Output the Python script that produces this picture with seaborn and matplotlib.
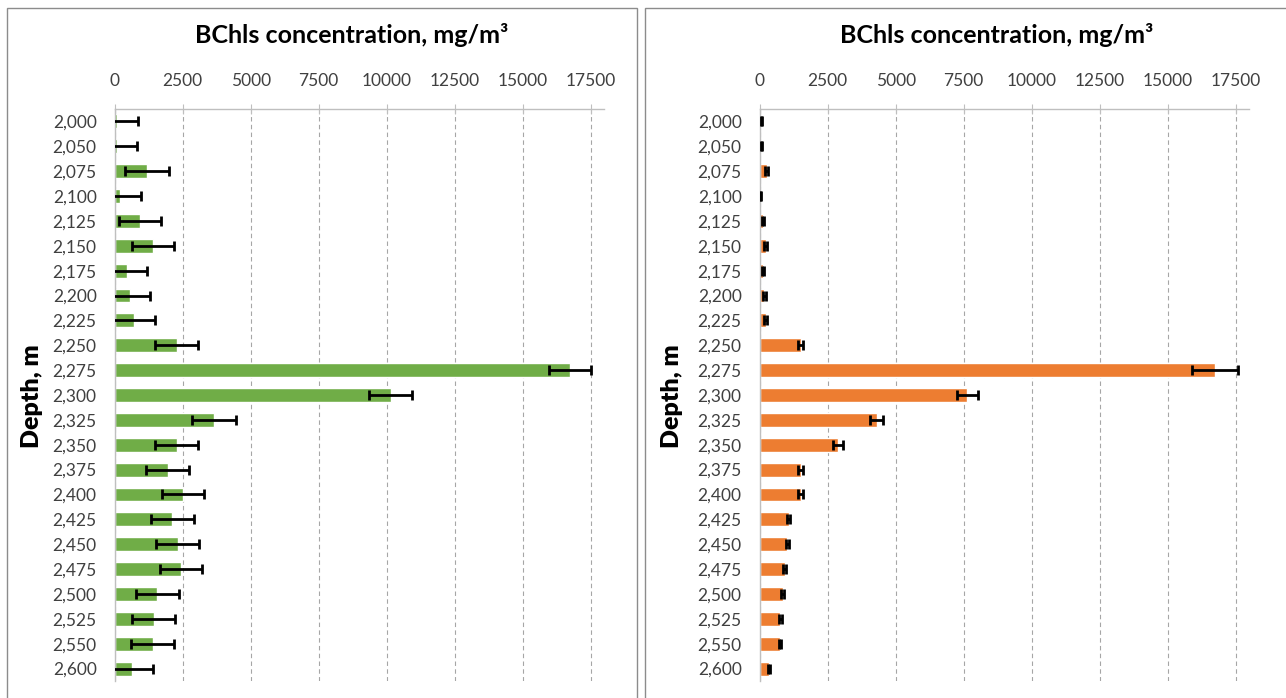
import matplotlib
matplotlib.use('Agg')
import matplotlib.pyplot as plt
from matplotlib.patches import Rectangle
import seaborn as sns
import numpy as np

depths = ['2,000', '2,050', '2,075', '2,100', '2,125', '2,150', '2,175', '2,200',
          '2,225', '2,250', '2,275', '2,300', '2,325', '2,350', '2,375', '2,400',
          '2,425', '2,450', '2,475', '2,500', '2,525', '2,550', '2,600']

# left panel (green)
green_vals = [75, 75, 1190, 196, 920, 1400, 450, 545, 710, 2275, 16745, 10145,
              3660, 2275, 1945, 2500, 2110, 2320, 2440, 1570, 1430, 1390, 650]
green_err = [785, 740, 800, 770, 775, 776, 755, 770, 770, 790, 770, 790,
             806, 805, 790, 775, 790, 785, 785, 790, 805, 785, 740]

# right panel (orange)
orange_vals = [60, 60, 260, 45, 120, 215, 120, 165, 215, 1505, 16740, 7640,
               4305, 2875, 1505, 1505, 1065, 1020, 915, 850, 760, 745, 335]
orange_err = [20, 20, 60, 20, 40, 50, 40, 50, 50, 100, 850, 390,
              245, 175, 100, 100, 60, 60, 50, 50, 50, 50, 40]

xticks = [0, 2500, 5000, 7500, 10000, 12500, 15000, 17500]

sns.set_style('white')
plt.rcParams['font.family'] = ['Lato', 'DejaVu Sans']

W, H = 1286, 698
fig = plt.figure(figsize=(W / 100, H / 100), dpi=100)

# chart area borders
fig.patches.append(Rectangle((7 / W, -0.05), 630 / W, 1 - 8 / H + 0.05, transform=fig.transFigure,
                             fill=False, edgecolor='#8c8c8c', lw=1))
fig.patches.append(Rectangle((645 / W, -0.05), 0.6, 1 - 8 / H + 0.05, transform=fig.transFigure,
                             fill=False, edgecolor='#8c8c8c', lw=1))

panels = [
    (114.7, green_vals, green_err, '#70AD47', 32),
    (759.7, orange_vals, orange_err, '#ED7D31', 672),
]

for x0, vals, errs, color, ylab_x in panels:
    ax = fig.add_axes([x0 / W, 1 - 681 / H, 489.5 / W, 572 / H])
    sns.barplot(x=vals, y=depths, orient='h', color=color, saturation=1, width=0.56, ax=ax)
    ax.errorbar(vals, np.arange(len(depths)), xerr=errs, fmt='none', ecolor='black',
                elinewidth=2, capsize=3.5, capthick=2, zorder=5)
    ax.set_xlim(0, 18000)
    ax.set_ylim(len(depths) - 0.5, -0.5)
    ax.set_xticks(xticks)
    ax.set_xticklabels([str(t) for t in xticks])
    ax.xaxis.tick_top()
    ax.tick_params(axis='x', direction='inout', length=7, color='#bfbfbf', pad=11,
                   labelsize=12.5, labelcolor='#404040')
    ax.tick_params(axis='y', which='major', length=0, pad=13, labelsize=12.5, labelcolor='#404040')
    ax.set_yticks(np.arange(len(depths) + 1) - 0.5, minor=True)
    ax.tick_params(axis='y', which='minor', length=6, color='#bfbfbf', direction='out')
    ax.grid(axis='x', linestyle=(0, (4, 3)), color='#a6a6a6', linewidth=0.8)
    ax.set_axisbelow(True)
    for s in ['right', 'bottom']:
        ax.spines[s].set_visible(False)
    for s in ['top', 'left']:
        ax.spines[s].set_color('#bfbfbf')
        ax.spines[s].set_linewidth(1)
    ax.set_xlabel('')
    ax.set_ylabel('')
    fig.text((x0 + 237) / W, 1 - 35 / H, 'BChls concentration, mg/m³', ha='center', va='center',
             fontsize=18, fontweight='bold', color='black')
    fig.text(ylab_x / W, 1 - 396 / H, 'Depth, m', ha='center', va='center', rotation=90,
             fontsize=18, fontweight='heavy', color='black')

fig.savefig('out.png', dpi=100)
